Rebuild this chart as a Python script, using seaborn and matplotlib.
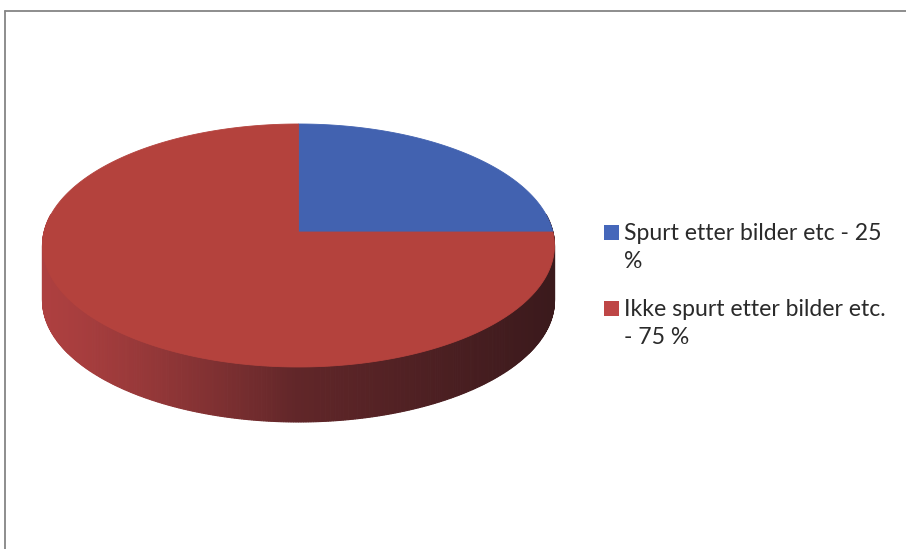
import textwrap
import numpy as np
import matplotlib
matplotlib.use("Agg")
import matplotlib.pyplot as plt
from matplotlib.patches import Polygon, Rectangle
from matplotlib.lines import Line2D
import seaborn as sns

# ---- data ----
categories = ["Spurt etter bilder etc", "Ikke spurt etter bilder etc."]
values = [25, 75]
top_colors = ["#4262B0", "#B4423D"]
legend_colors = ["#4567BA", "#BE4646"]

sns.set_theme(style="white")
plt.rcParams["font.family"] = ["Lato", "DejaVu Sans"]

W, H = 906, 549
fig = plt.figure(figsize=(W / 100, H / 100), dpi=100)
fig.patch.set_facecolor("white")
ax = fig.add_axes([0, 0, 1, 1])
ax.set_xlim(0, W)
ax.set_ylim(H, 0)
ax.axis("off")

# perspective projection of a unit disc
cx, cy, A, B, k = 298.5, 232.0, 254.4, 120.0, 0.111
depth = 55.0


def proj(t, drop=0.0):
    u, v = np.cos(t), np.sin(t)
    w = 1 + k * v
    return cx + A * u / w, cy - B * v / w + drop


# wedge angles: start at 12 o'clock, clockwise
fracs = np.array(values, dtype=float) / np.sum(values)
starts = np.pi / 2 - 2 * np.pi * np.concatenate([[0], np.cumsum(fracs)[:-1]])
ends = starts - 2 * np.pi * fracs

# side wall (draw far to near)
side_left = np.array([0.68, 0.25, 0.25])
side_mid = np.array([0.38, 0.15, 0.16])
side_right = np.array([0.23, 0.10, 0.11])
n = 720
ts = np.linspace(0, 2 * np.pi, n + 1)
quads = []
for i in range(n):
    t0, t1 = ts[i], ts[i + 1]
    tm = 0.5 * (t0 + t1)
    if np.sin(tm) > 0.15:
        continue
    x0, y0 = proj(t0)
    x1, y1 = proj(t1)
    xb0, yb0 = proj(t0, depth)
    xb1, yb1 = proj(t1, depth)
    s = (0.5 * (x0 + x1) - (cx - A)) / (2 * A)
    s = min(max(s, 0), 1)
    if s < 0.5:
        col = side_left + (side_mid - side_left) * (s / 0.5) ** 1.3
    else:
        col = side_mid + (side_right - side_mid) * ((s - 0.5) / 0.5)
    quads.append((np.sin(tm), [(x0, y0), (x1, y1), (xb1, yb1), (xb0, yb0)], col))
quads.sort(key=lambda q: -q[0])
for _, pts, col in quads:
    ax.add_patch(Polygon(pts, closed=True, facecolor=col, edgecolor=col, lw=0.8))

# top faces
for s0, e0, col in zip(starts, ends, top_colors):
    tt = np.linspace(s0, e0, 300)
    xs, ys = proj(tt)
    pts = [(cx, cy)] + list(zip(xs, ys))
    ax.add_patch(Polygon(pts, closed=True, facecolor=col, edgecolor=col, lw=0.6))

# legend
labels = [f"{c} - {v} %" for c, v in zip(categories, values)]
legend_baselines = [240, 316]
line_gap = 28
for lab, col, yb in zip(labels, legend_colors, legend_baselines):
    ax.add_patch(Rectangle((604, yb - 15), 15, 15, facecolor=col, edgecolor="none"))
    for j, line in enumerate(textwrap.wrap(lab, 28)):
        ax.text(624, yb + j * line_gap, line, fontsize=16.6, color="#2a2a2a",
                va="baseline", ha="left")

# chart frame
ax.add_line(Line2D([4.5, W], [11, 11], color="#858585", lw=1.3))
ax.add_line(Line2D([4.5, 4.5], [11, H], color="#858585", lw=1.3))

fig.savefig("out.png", dpi=100, facecolor="white")
